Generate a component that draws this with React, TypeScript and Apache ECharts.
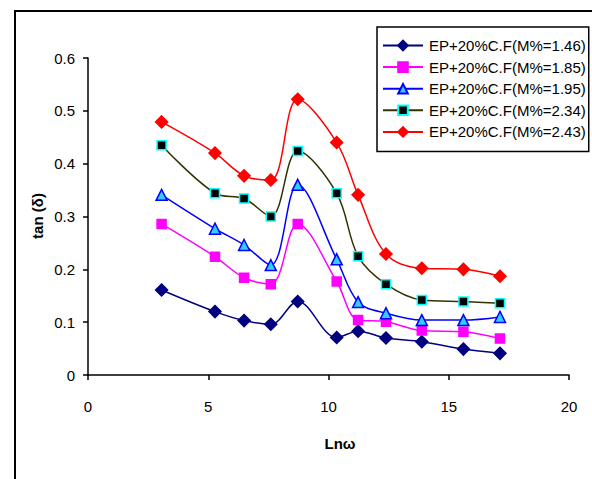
import React, { useEffect, useRef } from "react";
import * as echarts from "echarts";

const lnOmega = [3.06, 5.28, 6.49, 7.6, 8.72, 10.34, 11.23, 12.39, 13.88, 15.61, 17.13];
const m146 = [0.161, 0.12, 0.103, 0.096, 0.139, 0.071, 0.083, 0.07, 0.063, 0.049, 0.041];
const m185 = [0.286, 0.224, 0.184, 0.172, 0.286, 0.177, 0.104, 0.101, 0.084, 0.082, 0.069];
const m195 = [0.341, 0.277, 0.246, 0.208, 0.36, 0.219, 0.138, 0.117, 0.104, 0.104, 0.11];
const m234 = [0.435, 0.344, 0.334, 0.3, 0.424, 0.344, 0.225, 0.172, 0.142, 0.139, 0.136];
const m243 = [0.479, 0.42, 0.377, 0.369, 0.522, 0.44, 0.341, 0.229, 0.202, 0.2, 0.187];
const seriesNames = [
  "EP+20%C.F(M%=1.46)",
  "EP+20%C.F(M%=1.85)",
  "EP+20%C.F(M%=1.95)",
  "EP+20%C.F(M%=2.34)",
  "EP+20%C.F(M%=2.43)",
];
const xTicks = [0, 5, 10, 15, 20];
const yTicks = [0, 0.1, 0.2, 0.3, 0.4, 0.5, 0.6];

const FONT = "'Liberation Sans', Arial, sans-serif";

export default function App() {
  const ref = useRef<HTMLDivElement>(null);
  useEffect(() => {
    if (!ref.current) return;
    const chart = echarts.init(ref.current, null, { renderer: "svg" });
    const pair = (ys: number[]) => lnOmega.map((x, i) => [x, ys[i]]);
    const styles = [
      { line: "#000080", fill: "#000080", border: "#000080", symbol: "diamond", size: 12 },
      { line: "#FF00FF", fill: "#FF00FF", border: "#FF00FF", symbol: "rect", size: 9 },
      { line: "#0000FF", fill: "#33CCFF", border: "#0000FF", symbol: "triangle", size: 11 },
      { line: "#333300", fill: "#000000", border: "#00FFFF", symbol: "rect", size: 9 },
      { line: "#FF0000", fill: "#FF0000", border: "#FF0000", symbol: "diamond", size: 12 },
    ];
    const datas = [m146, m185, m195, m234, m243];
    chart.setOption({
      animation: false,
      textStyle: { fontFamily: FONT },
      grid: { left: 88, right: 23, top: 58, bottom: 104 },
      xAxis: {
        type: "value",
        min: xTicks[0],
        max: xTicks[xTicks.length - 1],
        interval: 5,
        axisLine: { show: true, lineStyle: { color: "#000", width: 1.5 } },
        axisTick: { show: true, length: 5, lineStyle: { color: "#000", width: 1.5 } },
        axisLabel: { color: "#000", fontSize: 15, margin: 24, fontFamily: FONT },
        splitLine: { show: false },
      },
      yAxis: {
        type: "value",
        min: yTicks[0],
        max: yTicks[yTicks.length - 1],
        interval: 0.1,
        axisLine: { show: true, lineStyle: { color: "#000", width: 1.5 } },
        axisTick: { show: true, length: 5, lineStyle: { color: "#000", width: 1.5 } },
        axisLabel: {
          color: "#000",
          fontSize: 15,
          margin: 13,
          fontFamily: FONT,
          formatter: (v: number) => String(+v.toFixed(1)),
        },
        splitLine: { show: false },
      },
      legend: {
        orient: "vertical",
        left: 377,
        top: 27,
        width: 213,
        padding: [11, 3, 12, 5],
        itemWidth: 40,
        itemHeight: 12,
        itemGap: 6.6,
        backgroundColor: "#fff",
        borderColor: "#000",
        borderWidth: 1.5,
        borderRadius: 0,
        textStyle: { color: "#000", fontSize: 15, fontFamily: FONT, padding: [0, 0, 0, 1] },
        data: seriesNames,
      },
      graphic: [
        {
          type: "rect",
          shape: { x: 15, y: 11, width: 700, height: 600 },
          style: { fill: "none", stroke: "#000", lineWidth: 2 },
          silent: true,
        },
        {
          type: "text",
          x: 37,
          y: 216,
          rotation: Math.PI / 2,
          style: {
            text: "tan (δ)",
            font: `bold 15px ${FONT}`,
            fill: "#000",
            align: "center",
            verticalAlign: "middle",
          },
        },
        {
          type: "text",
          x: 340,
          y: 443,
          style: {
            text: "Lnω",
            font: `bold 15px ${FONT}`,
            fill: "#000",
            align: "center",
            verticalAlign: "middle",
          },
        },
      ],
      series: datas.map((d, i) => ({
        name: seriesNames[i],
        type: "line",
        data: pair(d),
        smooth: 0.35,
        symbol: styles[i].symbol,
        symbolSize: styles[i].size,
        lineStyle: { color: styles[i].line, width: 1.5 },
        itemStyle: { color: styles[i].fill, borderColor: styles[i].border, borderWidth: 1.5 },
        z: 2 + i,
      })),
    });
    return () => chart.dispose();
  }, []);
  return (
    <div
      ref={ref}
      style={{ position: "fixed", left: 0, top: 0, width: 592, height: 479, background: "#fff" }}
    />
  );
}
